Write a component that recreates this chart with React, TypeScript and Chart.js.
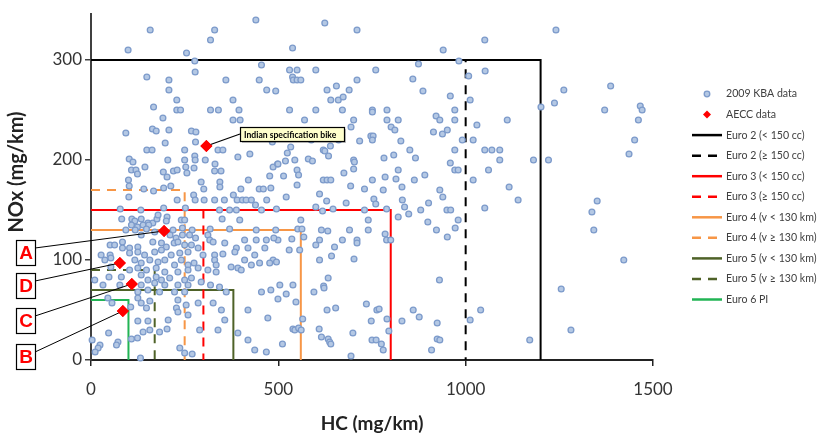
import React, { useEffect, useRef } from "react";
import { Chart, registerables } from "chart.js";

Chart.register(...registerables);

const FONT = "Lato, 'Open Sans', sans-serif";

// 2009 KBA data: [HC mg/km, NOx mg/km]
const kbaPoints: [number, number][] = [
  [158,330],[330,330],[440,340],[319,320],[99,310],[255,307],[277,299],[455,295],[278,288],[149,283],[208,280],[360,280],[449,280],[208,270],[469,270],[493,269],[229,260],[379,260],[167,253],[229,250],[239,250],[319,250],[340,250],[395,250],[192,242],[379,240],[398,240],[93,227],[164,231],[174,229],[208,230],[268,229],[280,228],[198,217],[279,218],[149,210],[163,210],[250,210],[339,210],[352,210],[102,201],[112,198],[205,200],[277,204],[278,200],[250,200],[305,200],[392,203],[424,206],[484,218],[144,193],[108,190],[120,190],[124,186],[193,188],[220,189],[230,190],[253,193],[256,187],[275,192],[331,196],[330,189],[347,189],[486,193],[498,196],[203,183],[100,180],[102,174],[294,178],[344,178],[344,173],[420,180],[477,184],[480,172],[213,174],[194,172],[141,171],[301,171],[400,171],[449,171],[460,171],
  [624,337],[710,330],[538,312],[940,310],[874,296],[982,299],[530,290],[550,290],[600,290],[760,290],[538,283],[540,280],[550,280],[560,280],[710,280],[859,281],[1008,284],[630,270],[655,274],[689,270],[640,260],[660,260],[673,263],[886,269],[959,264],[530,250],[600,250],[671,250],[751,250],[751,248],[790,250],[971,250],[570,240],[701,240],[790,240],[820,240],[921,244],[931,240],[971,240],[694,233],[801,233],[811,230],[914,228],[938,226],[951,230],[747,224],[753,224],[751,220],[717,219],[827,219],[991,220],[588,220],[661,220],[533,213],[639,214],[620,210],[624,209],[524,207],[634,204],[851,210],[971,210],[499,196],[519,199],[544,200],[580,201],[591,199],[701,200],[703,198],[782,202],[808,205],[866,202],[959,197],[550,190],[554,185],[514,184],[675,187],[701,191],[820,190],[971,190],[980,190],[785,183],[814,181],[863,180],[891,185],[620,180],[630,180],[640,180],[550,175],[693,174],[751,180],[830,173],[730,171],[931,170],
  [1241,330],[1051,320],[1052,289],[1262,270],[1387,274],[1012,260],[1237,257],[1201,253],[1371,250],[1466,254],[1471,250],[1461,240],[1111,240],[1030,235],[1020,220],[1451,220],[1436,206],[1051,210],[1070,210],[1091,210],[1091,200],[1181,200],[1221,200],[1061,190],[1020,180],[1116,173],
  [1140,160],[1051,152],[1351,159],[1337,148],[1342,130],[1422,100],[1255,71],[1040,50],[1012,40],[1171,20],[1281,30],
  [610,166],[780,170],[521,163],[629,159],[681,157],[755,161],[760,156],[831,160],[837,153],[848,146],[880,150],[901,157],[939,163],[950,150],[960,150],[980,140],[600,153],[618,149],[646,151],[730,150],[789,151],[820,143],[899,138],[972,132],[560,140],[552,131],[563,131],[568,123],[615,130],[632,129],[690,130],[740,140],[740,130],[785,126],[789,120],[800,120],[922,130],[951,123],[499,120],[536,121],[610,120],[600,115],[671,120],[710,120],[710,117],[650,113],[529,110],[557,110],[642,104],[610,100],[702,101],[633,82],[621,74],[622,72],[595,68],[539,75],[521,66],[499,61],[547,58],[930,80],[735,56],[630,50],[653,52],[763,50],[769,51],[860,50],[876,43],[748,39],[790,41],[830,39],[924,37],[565,41],[539,31],[544,30],[554,32],[561,30],[609,31],[699,27],[795,29],[615,23],[633,21],[637,18],[640,16],[750,20],[761,20],[775,16],[780,10],[924,21],[931,20],[909,10],[511,16],[694,4],
  [167,169],[101,163],[230,160],[274,165],[278,160],[302,160],[330,160],[356,160],[380,165],[390,160],[404,160],[414,160],[428,160],[439,155],[469,160],[78,151],[133,150],[194,152],[252,152],[343,150],[370,150],[388,150],[455,150],[495,151],[82,141],[109,141],[117,139],[134,141],[152,137],[165,137],[176,141],[179,145],[203,143],[241,140],[250,140],[350,141],[397,140],[108,135],[124,133],[139,135],[154,135],[201,139],[93,130],[118,130],[148,131],[170,128],[219,130],[244,132],[270,130],[318,131],[370,131],[441,130],[493,130],[134,125],[211,125],[227,122],[244,125],[263,125],[279,122],[312,125],[317,120],[326,118],[410,120],[441,120],[468,120],[488,122],[51,115],[63,115],[84,118],[84,112],[103,112],[125,113],[165,118],[188,117],[201,113],[222,117],[232,118],[250,115],[268,115],[286,112],[357,117],[388,112],[419,112],[464,112],[27,105],[51,105],[103,107],[125,108],[143,105],[170,108],[188,110],[214,105],[237,107],[259,108],[299,105],[330,105],[352,106],[384,108],[437,105],[486,100],[37,100],[53,102],[117,100],[134,97],[157,100],[179,98],[197,100],[223,95],[241,100],[259,95],[275,97],[330,100],[334,95],[374,93],[410,100],[428,95],[450,97],[477,97],[495,98],[53,93],[103,90],[125,92],[148,90],[174,92],[197,88],[232,88],[259,90],[286,92],[312,90],[334,88],[392,92],[401,90],[10,80],[48,83],[81,83],[134,85],[152,80],[174,83],[188,80],[210,82],[250,80],[268,82],[294,78],[32,75],[77,75],[134,75],[170,77],[197,75],[232,75],[259,75],[319,75],[343,73],[455,68],[480,70],[504,75],[125,68],[152,70],[183,68],[223,68],[250,68],[361,68],[45,62],[56,57],[125,62],[134,57],[157,59],[232,60],[228,52],[254,55],[286,57],[326,57],[106,53],[148,52],[232,48],[259,45],[348,50],[419,50],[472,42],[125,39],[152,39],[206,40],[357,40],[139,28],[157,30],[183,28],[203,31],[290,30],[339,30],[47,27],[108,21],[124,22],[3,20],[72,18],[68,15],[24,15],[19,12],[11,8],[237,12],[250,7],[270,6],[392,27],[419,20],[437,10],[468,8],[132,2]
];

// AECC data
const aeccHC = [308, 195, 77, 109, 85];
const aeccNOx = [214, 129, 97, 76, 49];
const aeccLabels = ["Indian specification bike", "A", "D", "C", "B"];

// Emission limits
const limitNames = [
  "Euro 2 (< 150 cc)",
  "Euro 2 (\u2265 150 cc)",
  "Euro 3 (< 150 cc)",
  "Euro 3 (\u2265 150 cc)",
  "Euro 4 (v < 130 km)",
  "Euro 4 (v \u2265 130 km)",
  "Euro 5 (v < 130 km)",
  "Euro 5 (v \u2265 130 km)",
  "Euro 6 PI",
];
const limitHC = [1200, 1000, 800, 300, 560, 250, 380, 170, 100];
const limitNOx = [300, 300, 150, 150, 130, 170, 70, 90, 60];
const limitColors = ["#000000", "#000000", "#ff0000", "#ff0000", "#f79646", "#f79646", "#4f6228", "#4f6228", "#22b455"];
const limitDashed = [false, true, false, true, false, true, false, true, false];

const xTickValues = [0, 500, 1000, 1500];
const yTickValues = [0, 100, 200, 300];
const xTitle = "HC (mg/km)";
const yTitle = "NOx (mg/km)";
const kbaLabel = "2009 KBA data";
const aeccLabel = "AECC data";

const W = 830;
const H = 437;
const PLOT_LEFT = 91;
const PLOT_TOP = 14;
const PLOT_RIGHT = 653;
const PLOT_BOTTOM = 360;

const KBA_FILL = "#b4c8e4";
const KBA_STROKE = "#7d9bcb";
const DASH = [9, 7];

export default function App() {
  const ref = useRef<HTMLCanvasElement | null>(null);

  useEffect(() => {
    document.body.style.margin = "0";
    const canvas = ref.current;
    if (!canvas) return;

    const limitDatasets = limitNames.map((name, i) => ({
      label: name,
      data: [
        { x: 0, y: limitNOx[i] },
        { x: limitHC[i], y: limitNOx[i] },
        { x: limitHC[i], y: 0 },
      ],
      showLine: true,
      borderColor: limitColors[i],
      backgroundColor: limitColors[i],
      borderWidth: 2,
      borderDash: limitDashed[i] ? DASH : [],
      pointRadius: 0,
      fill: false,
      tension: 0,
    }));

    const overlay = {
      id: "overlay",
      afterDraw(chart: any) {
        const ctx: CanvasRenderingContext2D = chart.ctx;
        const xs = chart.scales.x;
        const ys = chart.scales.y;

        // y axis title
        ctx.save();
        ctx.translate(17, 172);
        ctx.rotate(-Math.PI / 2);
        ctx.font = `bold 20px ${FONT}`;
        ctx.fillStyle = "#222";
        ctx.textAlign = "center";
        ctx.textBaseline = "middle";
        ctx.fillText(yTitle, 0, 0);
        ctx.restore();

        // Indian specification callout
        const px0 = xs.getPixelForValue(aeccHC[0]);
        const py0 = ys.getPixelForValue(aeccNOx[0]);
        const bx = 240, by = 127, bw = 104, bh = 14;
        ctx.save();
        ctx.strokeStyle = "#000";
        ctx.lineWidth = 1.2;
        ctx.beginPath();
        ctx.moveTo(px0, py0);
        ctx.lineTo(bx, by + 7);
        ctx.stroke();
        ctx.fillStyle = "rgba(0,0,0,0.25)";
        ctx.fillRect(bx + 2, by + 2, bw, bh);
        ctx.fillStyle = "#ffffcc";
        ctx.fillRect(bx, by, bw, bh);
        ctx.strokeRect(bx + 0.5, by + 0.5, bw, bh);
        ctx.fillStyle = "#000";
        ctx.font = `bold 8.6px ${FONT}`;
        ctx.textAlign = "left";
        ctx.textBaseline = "middle";
        ctx.fillText(aeccLabels[0], bx + 4, by + bh / 2 + 1);
        ctx.restore();

        // letter callouts
        const boxes = [
          { x: 16, y: 240 },
          { x: 16, y: 273 },
          { x: 16, y: 308 },
          { x: 16, y: 344 },
        ];
        const lw = 19, lh = 25;
        boxes.forEach((b, k) => {
          const i = k + 1;
          const px = xs.getPixelForValue(aeccHC[i]);
          const py = ys.getPixelForValue(aeccNOx[i]);
          ctx.save();
          ctx.strokeStyle = "#000";
          ctx.lineWidth = 1;
          ctx.beginPath();
          ctx.moveTo(b.x + lw, b.y + 8);
          ctx.lineTo(px, py);
          ctx.stroke();
          ctx.fillStyle = "#fff";
          ctx.fillRect(b.x, b.y, lw, lh);
          ctx.lineWidth = 1.2;
          ctx.strokeRect(b.x + 0.5, b.y + 0.5, lw, lh);
          ctx.fillStyle = "#ff0000";
          ctx.font = `bold 19px 'Liberation Sans', Arial, sans-serif`;
          ctx.textAlign = "center";
          ctx.textBaseline = "middle";
          ctx.fillText(aeccLabels[i], b.x + lw / 2 + 0.5, b.y + lh / 2 + 1.5);
          ctx.restore();
        });

        // redraw AECC diamonds over connectors
        ctx.save();
        for (let i = 0; i < aeccHC.length; i++) {
          const px = xs.getPixelForValue(aeccHC[i]);
          const py = ys.getPixelForValue(aeccNOx[i]);
          const r = 6;
          ctx.fillStyle = "#ff0000";
          ctx.beginPath();
          ctx.moveTo(px - r, py);
          ctx.lineTo(px, py - r);
          ctx.lineTo(px + r, py);
          ctx.lineTo(px, py + r);
          ctx.closePath();
          ctx.fill();
        }
        ctx.restore();

        // legend
        const lx0 = 692, lx1 = 722, tx = 726;
        const y0 = 94, step = 20.55;
        ctx.save();
        ctx.font = `10.6px ${FONT}`;
        ctx.fillStyle = "#404040";
        ctx.textAlign = "left";
        ctx.textBaseline = "middle";
        // KBA
        ctx.beginPath();
        ctx.arc(707, y0, 2.8, 0, Math.PI * 2);
        ctx.fillStyle = KBA_FILL;
        ctx.fill();
        ctx.strokeStyle = KBA_STROKE;
        ctx.lineWidth = 1.3;
        ctx.stroke();
        ctx.fillStyle = "#404040";
        ctx.fillText(kbaLabel, tx, y0);
        // AECC
        const ay = y0 + step;
        ctx.beginPath();
        ctx.moveTo(707 - 4, ay);
        ctx.lineTo(707, ay - 4);
        ctx.lineTo(707 + 4, ay);
        ctx.lineTo(707, ay + 4);
        ctx.closePath();
        ctx.fillStyle = "#ff0000";
        ctx.fill();
        ctx.fillStyle = "#404040";
        ctx.fillText(aeccLabel, tx, ay);
        limitNames.forEach((name, i) => {
          const y = y0 + step * (i + 2);
          ctx.save();
          ctx.strokeStyle = limitColors[i];
          ctx.lineWidth = 2.5;
          ctx.setLineDash(limitDashed[i] ? DASH : []);
          ctx.beginPath();
          ctx.moveTo(lx0, y);
          ctx.lineTo(lx1, y);
          ctx.stroke();
          ctx.restore();
          ctx.fillText(name, tx, y);
        });
        ctx.restore();
      },
    };

    const chart = new Chart(canvas, {
      type: "scatter",
      data: {
        datasets: [
          {
            label: aeccLabel,
            data: aeccHC.map((x, i) => ({ x, y: aeccNOx[i] })),
            pointStyle: "rectRot",
            pointRadius: 6,
            backgroundColor: "#ff0000",
            borderColor: "#ff0000",
            borderWidth: 0,
          },
          {
            label: kbaLabel,
            data: kbaPoints.map(([x, y]) => ({ x, y })),
            pointRadius: 2.9,
            backgroundColor: KBA_FILL,
            borderColor: KBA_STROKE,
            borderWidth: 1.3,
            clip: false,
          },
          ...limitDatasets,
        ] as any,
      },
      options: {
        responsive: false,
        devicePixelRatio: 1,
        animation: false,
        layout: { padding: { top: PLOT_TOP, right: W - PLOT_RIGHT, left: 0, bottom: 0 } },
        plugins: {
          legend: { display: false },
          tooltip: { enabled: false },
        },
        scales: {
          x: {
            type: "linear",
            min: 0,
            max: 1500,
            afterBuildTicks: (s: any) => {
              s.ticks = xTickValues.map((v) => ({ value: v }));
            },
            ticks: {
              color: "#333",
              font: { family: FONT, size: 17 },
              padding: 13,
              maxRotation: 0,
              callback: (v: any) => String(v),
            },
            grid: { drawOnChartArea: false, drawTicks: true, tickLength: 6, color: "#222", lineWidth: 1.5 },
            border: { display: true, color: "#222", width: 2 },
            title: {
              display: true,
              text: xTitle,
              color: "#222",
              font: { family: FONT, size: 19, weight: "bold" },
              padding: { top: 0, bottom: 2 },
            },
            afterFit: (s: any) => {
              s.height = H - PLOT_BOTTOM;
            },
          },
          y: {
            type: "linear",
            min: 0,
            max: 346,
            afterBuildTicks: (s: any) => {
              s.ticks = yTickValues.map((v) => ({ value: v }));
            },
            ticks: {
              color: "#333",
              font: { family: FONT, size: 17 },
              padding: 3,
              callback: (v: any) => String(v),
            },
            grid: { drawOnChartArea: false, drawTicks: true, tickLength: 6, color: "#404040", lineWidth: 1.5 },
            border: { display: true, color: "#404040", width: 2 },
            title: { display: false },
            afterFit: (s: any) => {
              s.width = PLOT_LEFT;
            },
          },
        },
      } as any,
      plugins: [overlay],
    });

    return () => {
      chart.destroy();
    };
  }, []);

  return (
    <div style={{ width: W, height: H, background: "#fff" }}>
      <canvas ref={ref} width={W} height={H} style={{ display: "block", width: W, height: H }} />
    </div>
  );
}
